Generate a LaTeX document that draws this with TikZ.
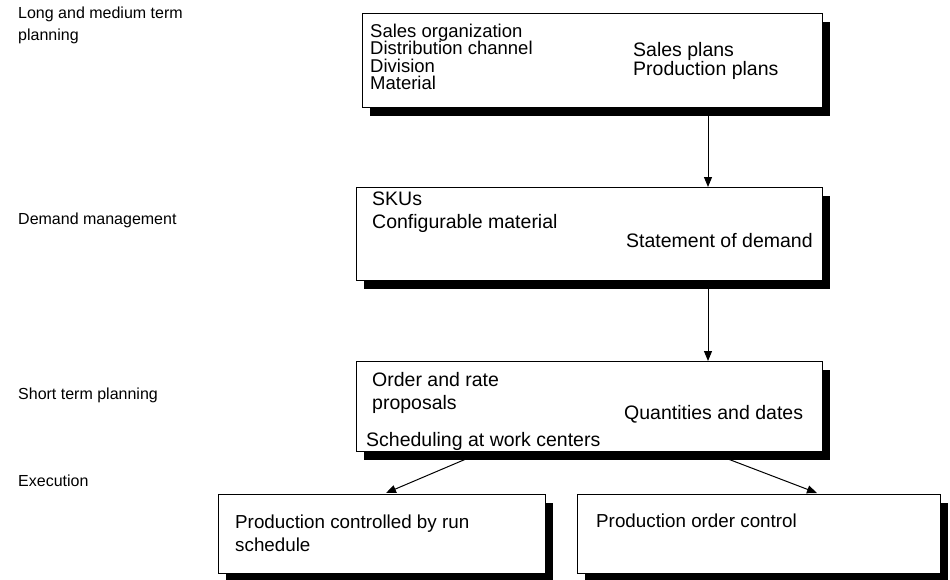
\documentclass[tikz,border=0pt]{standalone}
\usepackage{fontspec}
\setmainfont{Liberation Sans}
\usetikzlibrary{arrows.meta,shadows}
\begin{document}
\begin{tikzpicture}[x=1pt,y=-1pt,
  box/.style={draw=black,line width=1pt,fill=white,anchor=north west,inner sep=0pt,
    drop shadow={shadow xshift=7pt,shadow yshift=-8pt,fill=black,opacity=1}},
  txt/.style={anchor=west,inner sep=0pt,align=left,font=\fontsize{19.5}{22.5}\selectfont},
  txtC/.style={anchor=west,inner sep=0pt,align=left,font=\fontsize{18.8}{23}\selectfont},
  txtA/.style={anchor=west,inner sep=0pt,align=left,font=\fontsize{18.5}{17.5}\selectfont},
  txtB/.style={anchor=west,inner sep=0pt,align=left,font=\fontsize{19.5}{19.5}\selectfont},
  lbl/.style={anchor=west,inner sep=0pt,align=left,font=\fontsize{16}{22}\selectfont},
  arr/.style={line width=1pt,-{Triangle[length=10pt,width=8pt]}}]
\useasboundingbox (0,0) rectangle (950,579);
% left labels
\node[lbl] (l1) at (18,25) {Long and medium term\\planning};
\node[lbl] (l2) at (18,220) {Demand management};
\node[lbl] (l3) at (18,395) {Short term planning};
\node[lbl] (l4) at (18,481) {Execution};
% boxes
\node[box,minimum width=460pt,minimum height=94pt] (b1) at (362,13) {};
\node[box,minimum width=466pt,minimum height=93pt] (b2) at (356,187) {};
\node[box,minimum width=466pt,minimum height=90pt] (b3) at (356,361) {};
\node[box,minimum width=327pt,minimum height=79pt] (b4) at (218,494) {};
\node[box,minimum width=363pt,minimum height=79pt] (b5) at (577,494) {};
% texts
\node[txtA] (t1a) at (370,57) {Sales organization\\Distribution channel\\Division\\Material};
\node[txtB] (t1b) at (633,61) {Sales plans\\Production plans};
\node[txt] (t2a) at (372,212) {SKUs\\Configurable material};
\node[txt] (t2b) at (626,241) {Statement of demand};
\node[txt] (t3a) at (372,393) {Order and rate\\proposals};
\node[txt] (t3b) at (624,414) {Quantities and dates};
\node[txt] (t3c) at (366,441) {Scheduling at work centers};
\node[txtC] (t4) at (235,533) {Production controlled by run\\schedule};
\node[txtC] (t5) at (596,521) {Production order control};
% connectors
\coordinate (a1s) at (708,115);
\coordinate (a1e) at (708,187);
\coordinate (a2s) at (708,288);
\coordinate (a2e) at (708,361);
\coordinate (a3s) at (466,459);
\coordinate (a3e) at (386,493);
\coordinate (a4s) at (728,459);
\coordinate (a4e) at (817,493);
\draw[arr] (a1s) -- (a1e);
\draw[arr] (a2s) -- (a2e);
\draw[arr] (a3s) -- (a3e);
\draw[arr] (a4s) -- (a4e);
\end{tikzpicture}
\end{document}
